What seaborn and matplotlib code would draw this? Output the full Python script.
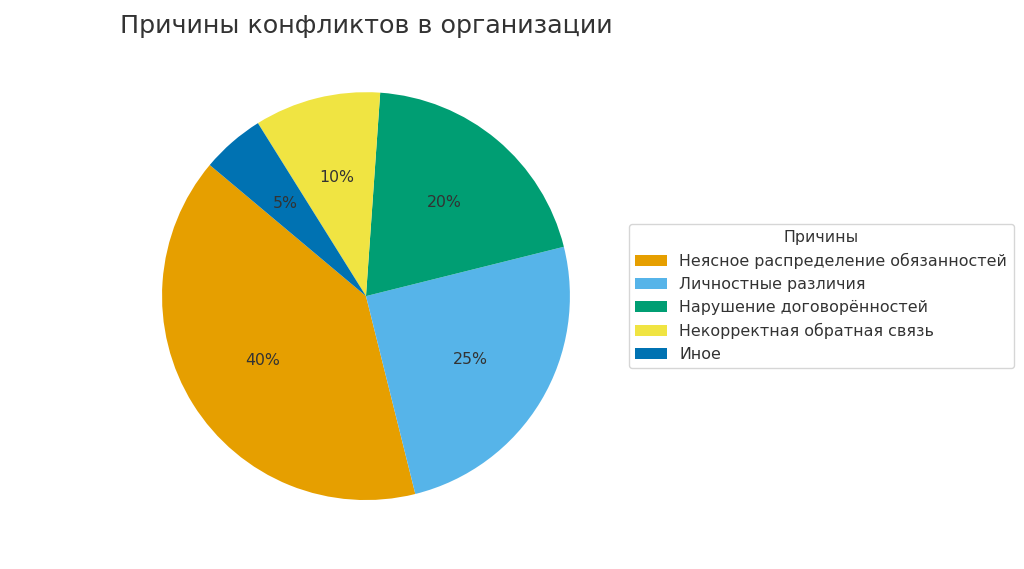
import matplotlib
matplotlib.use("Agg")
import matplotlib.pyplot as plt
import seaborn as sns

categories = [
    "Неясное распределение обязанностей",
    "Личностные различия",
    "Нарушение договорённостей",
    "Некорректная обратная связь",
    "Иное",
]
values = [40, 25, 20, 10, 5]
colors = ["#E69F00", "#56B4E9", "#009E73", "#F0E442", "#0072B2"]

sns.set_theme(style="white")
plt.rcParams["font.family"] = ["DejaVu Sans"]
plt.rcParams["text.color"] = "#333333"

palette = sns.color_palette(colors)

fig = plt.figure(figsize=(10.24, 5.69), dpi=100)
ax = fig.add_axes([0.1084, 0.0316, 0.498, 0.896])
wedges, texts, autotexts = ax.pie(
    values,
    colors=palette,
    startangle=140,
    autopct="%1.0f%%",
    pctdistance=0.6,
    wedgeprops={"linewidth": 0, "edgecolor": "none"},
    textprops={"fontsize": 11.3, "color": "#333333"},
)
ax.set_aspect("equal")
ax.set_title("Причины конфликтов в организации", fontsize=18.3, color="#333333")
ax.legend(
    wedges,
    categories,
    title="Причины",
    loc="center left",
    bbox_to_anchor=(1.0, 0.5),
    fontsize=11.4,
    title_fontsize=11.4,
    frameon=True,
)
fig.savefig("out.png", dpi=100)
